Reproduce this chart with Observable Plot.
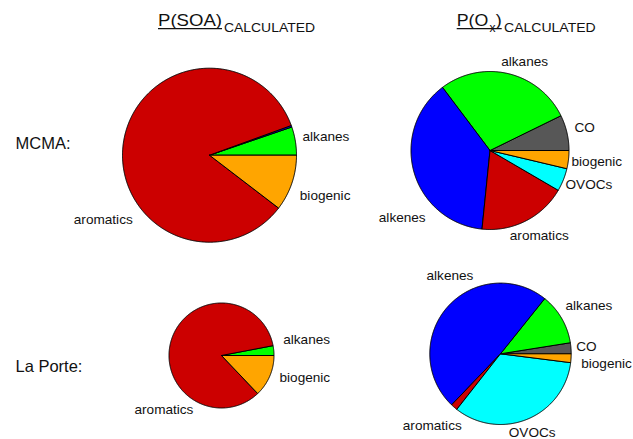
<!DOCTYPE html>
<html>
<head>
<meta charset="utf-8">
<script src="https://cdn.jsdelivr.net/npm/d3@7"></script>
<script src="https://cdn.jsdelivr.net/npm/@observablehq/plot@0.6"></script>
<style>
  html, body { margin: 0; padding: 0; background: #fff; }
  #chart svg { display: block; }
</style>
</head>
<body>
<div id="chart"></div>
<script>
// ---------- data (shares in %, slices run counter-clockwise from 3 o'clock) ----------
const mcmaSoaCategories = ["alkanes", "alkenes", "aromatics", "biogenic"];
const mcmaSoaValues     = [5.25, 0.3, 84.05, 10.4];

const mcmaOxCategories  = ["CO", "alkanes", "alkenes", "aromatics", "OVOCs", "biogenic"];
const mcmaOxValues      = [7.25, 28.0, 38.1, 18.2, 4.7, 3.7];

const lpSoaCategories   = ["alkanes", "aromatics", "biogenic"];
const lpSoaValues       = [3.0, 84.1, 12.9];

const lpOxCategories    = ["CO", "alkanes", "alkenes", "aromatics", "OVOCs", "biogenic"];
const lpOxValues        = [2.5, 11.75, 48.6, 1.55, 33.6, 2.0];

const rowLabels = ["MCMA:", "La Porte:"];

// ---------- colours ----------
const colorDomain = ["alkanes", "alkenes", "aromatics", "biogenic", "CO", "OVOCs"];
const colorRange  = ["#00ff00", "#0000ff", "#cc0000", "#ffa500", "#575757", "#00ffff"];

// ---------- layout (pixels) ----------
const W = 633, H = 439;
const pies = [
  {id: "mcmaSoa", cats: mcmaSoaCategories, vals: mcmaSoaValues, cx: 209, cy: 154.7, r: 87,
   labels: {alkanes: [93, -14.7], biogenic: [90.3, 44.6], aromatics: [-135.7, 68.6]}},
  {id: "mcmaOx", cats: mcmaOxCategories, vals: mcmaOxValues, cx: 489.5, cy: 150, r: 79,
   labels: {alkanes: [11.2, -85], CO: [84.5, -18.3], biogenic: [81.5, 15.7], OVOCs: [75.5, 38.3],
            alkenes: [-111.2, 71], aromatics: [19.8, 89.3]}},
  {id: "lpSoa", cats: lpSoaCategories, vals: lpSoaValues, cx: 221, cy: 355, r: 52.5,
   labels: {alkanes: [61.7, -11.7], biogenic: [58, 26.7], aromatics: [-87, 58.3]}},
  {id: "lpOx", cats: lpOxCategories, vals: lpOxValues, cx: 500, cy: 353.3, r: 70.7,
   labels: {alkenes: [-74, -74.3], alkanes: [65, -44], CO: [75.7, -3.3], biogenic: [80.7, 14],
            aromatics: [-97.7, 76], OVOCs: [8.3, 83.2]}}
];
const rowLabelPos = [[15, 148.3], [15, 371.5]];

// ---------- build slice polygons from the data ----------
const slicePts = [];
const labelRows = [];
for (const p of pies) {
  const arcs = d3.pie().sort(null).startAngle(0).endAngle(2 * Math.PI)(p.vals);
  arcs.forEach((a, i) => {
    const id = p.id + "-" + i;
    const cat = p.cats[i];
    const n = Math.max(2, Math.ceil((a.endAngle - a.startAngle) / (Math.PI / 360)));
    slicePts.push({id, cat, x: p.cx, y: p.cy});
    for (let k = 0; k <= n; k++) {
      const t = a.startAngle + (a.endAngle - a.startAngle) * k / n;
      slicePts.push({id, cat, x: p.cx + p.r * Math.cos(t), y: p.cy - p.r * Math.sin(t)});
    }
    slicePts.push({id, cat, x: p.cx, y: p.cy});
    if (p.labels[cat]) {
      labelRows.push({text: cat, x: p.cx + p.labels[cat][0], y: p.cy + p.labels[cat][1]});
    }
  });
}
const rowRows = rowLabels.map((t, i) => ({text: t, x: rowLabelPos[i][0], y: rowLabelPos[i][1]}));

const svg = Plot.plot({
  width: W, height: H, margin: 0,
  style: {fontFamily: "'Liberation Sans', Arial, sans-serif", background: "#fff", color: "#000"},
  x: {domain: [0, W], range: [0, W], axis: null},
  y: {domain: [0, H], range: [0, H], axis: null},
  color: {domain: colorDomain, range: colorRange},
  marks: [
    Plot.line(slicePts, {x: "x", y: "y", z: "id", fill: "cat", stroke: "#000", strokeWidth: 1,
                         strokeLinejoin: "round", curve: "linear"}),
    Plot.text(labelRows, {x: "x", y: "y", text: "text", textAnchor: "start", lineAnchor: "bottom",
                          fontSize: 13.6, fill: "#111"}),
    Plot.text(rowRows, {x: "x", y: "y", text: "text", textAnchor: "start", lineAnchor: "bottom",
                        fontSize: 16.5, fill: "#111"})
  ]
});
document.getElementById("chart").appendChild(svg);

// ---------- column titles with subscripts ----------
const s = d3.select(svg);
const ff = "'Liberation Sans', Arial, sans-serif";
function txt(str, x, y, size, len) {
  s.append("text").attr("x", x).attr("y", y).attr("font-size", size).attr("font-family", ff)
    .attr("text-anchor", "start").style("text-anchor", "start")
    .attr("fill", "#111").attr("textLength", len).attr("lengthAdjust", "spacingAndGlyphs").text(str);
}
function uline(x1, x2, y) {
  s.append("line").attr("x1", x1).attr("x2", x2).attr("y1", y).attr("y2", y)
    .attr("stroke", "#111").attr("stroke-width", 1.2);
}
txt("P(SOA)", 158, 26, 17, 64);
txt("CALCULATED", 224, 32.3, 12, 91);
uline(158, 222, 28.6);

txt("P(O", 456.7, 26, 17, 31.6);
txt("x", 489.4, 31.8, 12, 6);
txt(")", 495.7, 26, 17, 6);
txt("CALCULATED", 504, 32.3, 12, 91.7);
uline(456.7, 501.7, 28.6);
</script>
</body>
</html>
